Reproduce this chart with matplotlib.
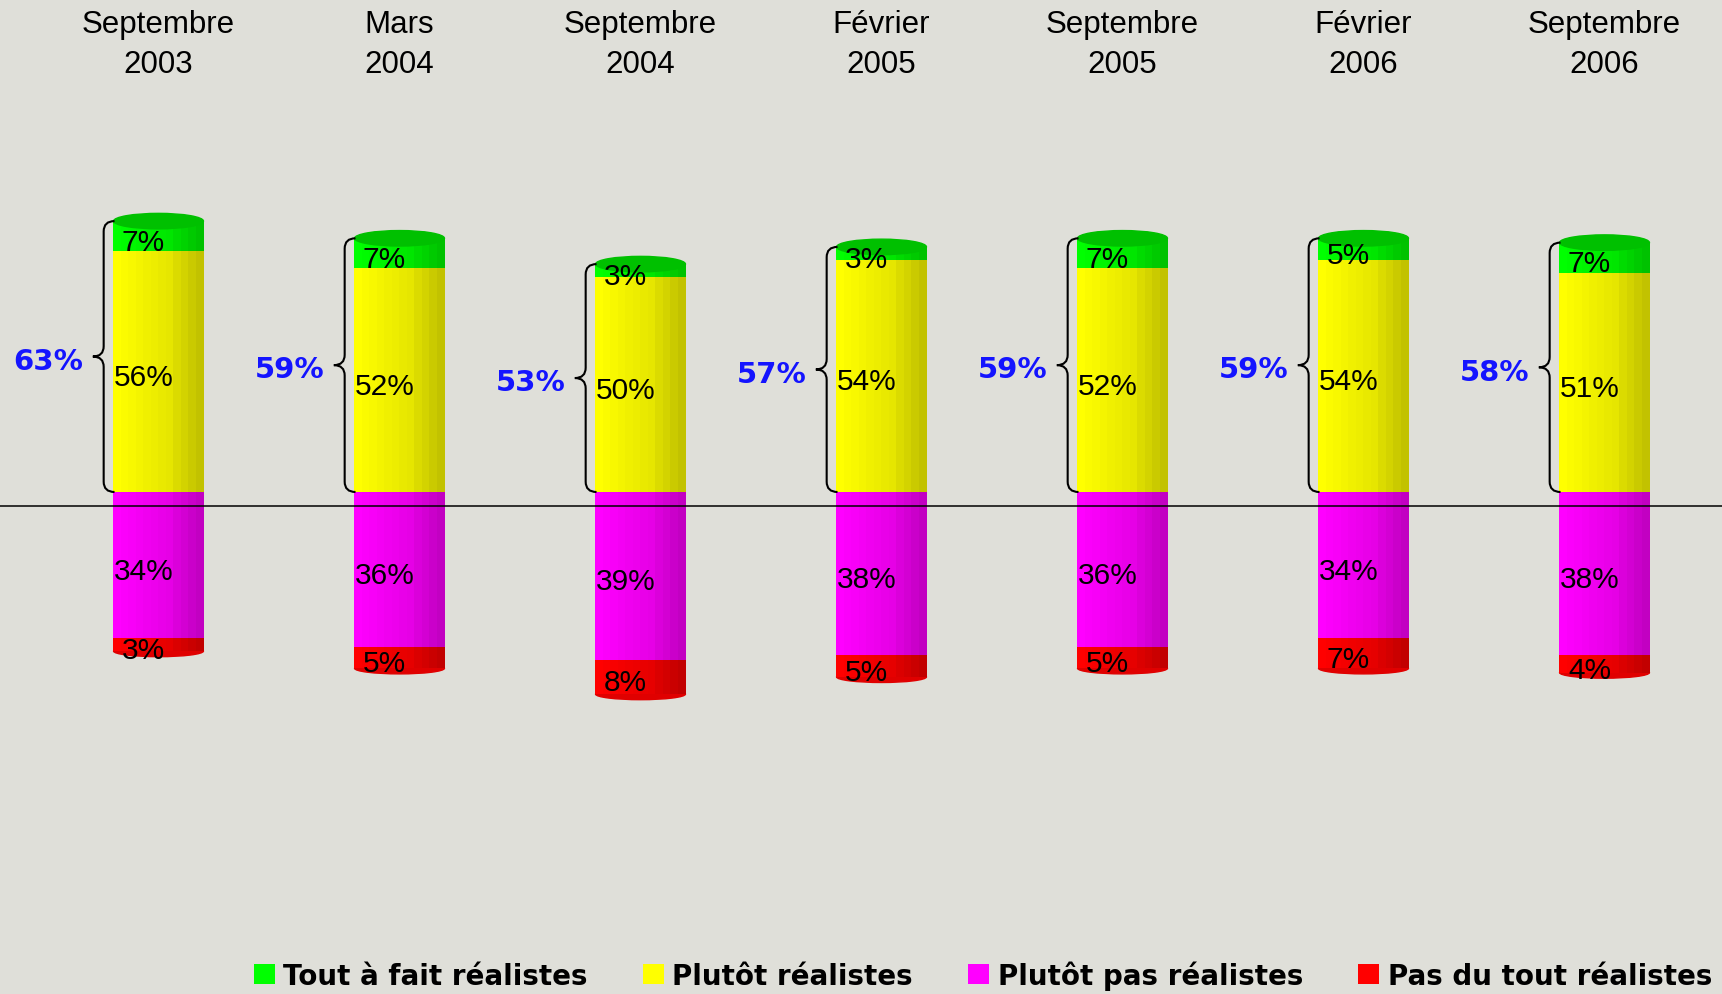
import matplotlib
matplotlib.use("Agg")
import matplotlib.pyplot as plt
import numpy as np
from matplotlib.patches import Ellipse, PathPatch, Patch
from matplotlib.path import Path
import matplotlib.colors as mcolors

# data
dates = ["Septembre\n2003", "Mars\n2004", "Septembre\n2004", "Février\n2005",
         "Septembre\n2005", "Février\n2006", "Septembre\n2006"]
tout_a_fait = [7, 7, 3, 3, 7, 5, 7]
plutot = [56, 52, 50, 54, 52, 54, 51]
plutot_pas = [34, 36, 39, 38, 36, 34, 38]
pas_du_tout = [3, 5, 8, 5, 5, 7, 4]
totals = [63, 59, 53, 57, 59, 59, 58]
series_names = ["Tout à fait réalistes", "Plutôt réalistes",
                "Plutôt pas réalistes", "Pas du tout réalistes"]
series_colors = ["#00ff00", "#ffff00", "#ff00ff", "#ff0000"]

bg = "#dfdfd9"
plain = "Liberation Sans"

fig = plt.figure(figsize=(17.22, 9.95), dpi=100, facecolor=bg)
ax = fig.add_axes([0, 0, 1, 1])
ax.set_facecolor(bg)
ax.set_xlim(-158.5 / 241, (1722 - 158.5) / 241)
ax.set_ylim(-(995 - 493) / 4.3, 493 / 4.3)
ax.axis("off")

x = np.arange(len(dates))
w = 0.373
nstripe = 12
shade = np.concatenate([np.linspace(1.0, 0.9, 8), np.linspace(0.86, 0.76, 4)])


def shaded(color, f):
    r, g, b = mcolors.to_rgb(color)
    return (r * f, g * f, b * f)


def stripes(bottom, height, color):
    for k in range(nstripe):
        xs = x - w / 2 + (k + 0.5) * w / nstripe
        ax.bar(xs, height, bottom=bottom, width=w / nstripe * 1.02,
               color=shaded(color, shade[k]), linewidth=0, zorder=2)


pos_top = np.array(tout_a_fait) + np.array(plutot)
neg_bot = -(np.array(plutot_pas) + np.array(pas_du_tout))

# rounded bottom end
for i in range(len(x)):
    ax.add_patch(Ellipse((x[i], neg_bot[i]), w, 2.6,
                         color=shaded("#ff0000", 0.88), zorder=1))

stripes(0, plutot, "#ffff00")
stripes(plutot, tout_a_fait, "#00ff00")
stripes(0, -np.array(plutot_pas), "#ff00ff")
stripes(-np.array(plutot_pas), -np.array(pas_du_tout), "#ff0000")

# top caps
for i in range(len(x)):
    ax.add_patch(Ellipse((x[i], pos_top[i]), w, 3.6, color="#00c000", zorder=3))

# baseline
ax.axhline(-3.26, color="black", lw=1.1, zorder=4)

# segment labels
lab_dx = -0.062
lab_dy = -1.3
for i in range(len(x)):
    segs = [(plutot[i] + tout_a_fait[i] / 2, tout_a_fait[i]),
            (plutot[i] / 2, plutot[i]),
            (-plutot_pas[i] / 2, plutot_pas[i]),
            (-plutot_pas[i] - pas_du_tout[i] / 2, pas_du_tout[i])]
    for yc, v in segs:
        ax.text(x[i] + lab_dx, yc + lab_dy, f"{v}%", ha="center", va="center",
                fontsize=21.5, family=plain, color="black", zorder=5)

# braces and totals
r = 2.4
for i in range(len(x)):
    xr = x[i] - w / 2 + 0.004
    xt = xr - 0.09
    xm = (xr + xt) / 2
    y1 = pos_top[i]
    y0 = 0
    ym = (y1 + y0) / 2
    verts = [(xr, y1), (xm, y1), (xm, y1 - r),
             (xm, ym + r),
             (xm, ym), (xt, ym),
             (xm, ym), (xm, ym - r),
             (xm, y0 + r),
             (xm, y0), (xr, y0)]
    codes = [Path.MOVETO, Path.CURVE3, Path.CURVE3, Path.LINETO,
             Path.CURVE3, Path.CURVE3, Path.CURVE3, Path.CURVE3,
             Path.LINETO, Path.CURVE3, Path.CURVE3]
    ax.add_patch(PathPatch(Path(verts, codes), fill=False, lw=1.5,
                           edgecolor="black", zorder=5))
    ax.text(xt - 0.04, ym - 1.0, f"{totals[i]}%", ha="right", va="center",
            fontsize=21, fontweight="bold", family="DejaVu Sans",
            color="#1414ff", zorder=5)

# date labels on top
for i in range(len(x)):
    ax.text(x[i], 1 - 45 / 995, dates[i], transform=ax.get_xaxis_transform(),
            ha="center", va="center", fontsize=22.5, family=plain,
            linespacing=1.45)

handles = [Patch(facecolor=c, edgecolor="none") for c in series_colors]
leg = fig.legend(handles, series_names, ncol=4, loc="center right",
                 bbox_to_anchor=(1712 / 1722, 1 - 976 / 995), frameon=False,
                 handlelength=0.75, handleheight=0.75, handletextpad=0.3,
                 columnspacing=2.0, borderaxespad=0, borderpad=0,
                 prop={"family": "DejaVu Sans", "weight": "bold", "size": 20})

fig.savefig("out.png", dpi=100, facecolor=bg)
